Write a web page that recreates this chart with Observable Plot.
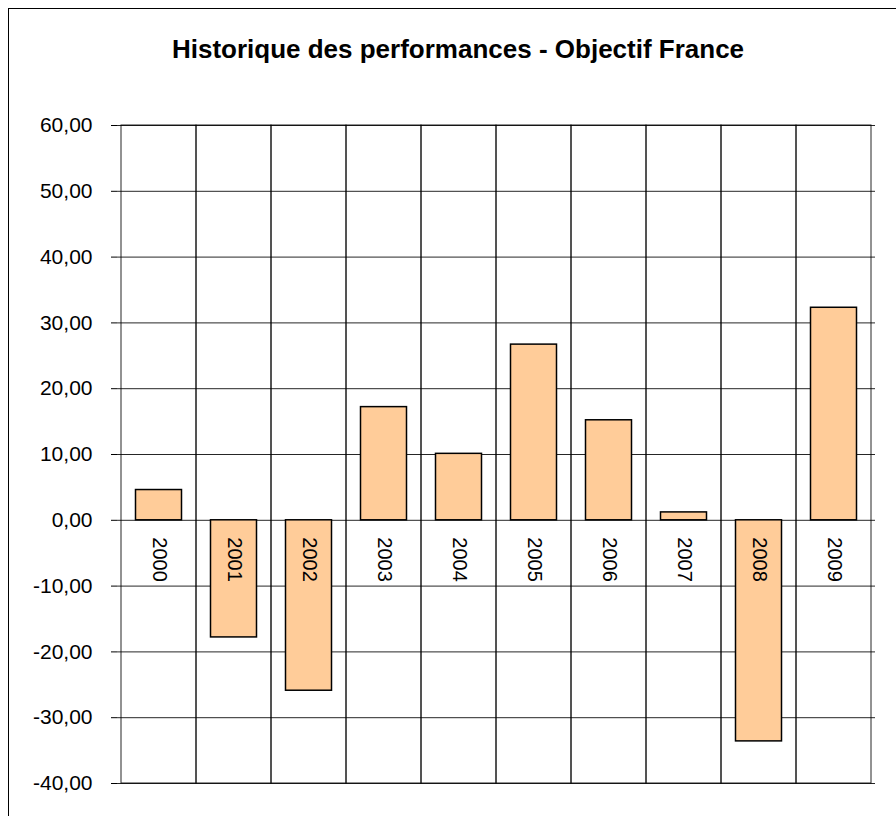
<!DOCTYPE html>
<html>
<head>
<meta charset="utf-8">
<script src="https://cdn.jsdelivr.net/npm/d3@7"></script>
<script src="https://cdn.jsdelivr.net/npm/@observablehq/plot@0.6"></script>
<style>
  html, body { margin: 0; padding: 0; background: #fff; overflow: hidden; width: 896px; height: 816px; }
  #frame { position: absolute; left: 8px; top: 8px; width: 1000px; height: 1000px; border: 1px solid #000; box-sizing: border-box; }
  #title { position: absolute; left: 20px; width: 876px; top: 34px; height: 30px; line-height: 30px; text-align: center;
           font-family: "Liberation Sans", Arial, sans-serif; font-weight: bold; font-size: 26px; color: #000; }
  #chart { position: absolute; left: 0; top: 100px; }
</style>
</head>
<body>
<div id="frame"></div>
<div id="title">Historique des performances - Objectif France</div>
<div id="chart"></div>
<script>
const years = ["2000", "2001", "2002", "2003", "2004", "2005", "2006", "2007", "2008", "2009"];
const values = [4.6, -17.8, -25.9, 17.2, 10.1, 26.7, 15.2, 1.2, -33.6, 32.3];
const yTicks = [-40, -30, -20, -10, 0, 10, 20, 30, 40, 50, 60];

const data = years.map((y, i) => ({year: y, value: values[i]}));
const fmt = d => d.toFixed(2).replace(".", ",");

const chart = Plot.plot({
  width: 896,
  height: 716,
  marginTop: 25,
  marginBottom: 33,
  marginLeft: 117,
  marginRight: 21,
  style: {fontFamily: "'Liberation Sans', Arial, sans-serif", fontSize: "21px", color: "#000", background: "transparent"},
  x: {domain: years, padding: 0, axis: null},
  y: {domain: [-40, 60], ticks: yTicks, tickFormat: fmt, tickSize: 6, tickPadding: 19, label: null},
  marks: [
    Plot.ruleY(yTicks, {stroke: "#000", strokeWidth: 1, strokeOpacity: 0.85}),
    Plot.barY(years, {x: d => d, y1: -40, y2: 60, fill: "none", stroke: "#000", strokeWidth: 1, strokeOpacity: 0.85}),
    Plot.barY(data, {x: "year", y: "value", fill: "#FFCC99", stroke: "#000", strokeWidth: 1.5, insetLeft: 14.5, insetRight: 14.5}),
    Plot.text(data, {x: "year", y: 0, text: "year", rotate: 90, textAnchor: "start", lineAnchor: "middle", dy: 17, fontSize: 20, fill: "#000"}),
    Plot.axisY({ticks: yTicks, tickFormat: fmt, tickSize: 6, tickPadding: 19, fontSize: 21, stroke: "#000", label: null})
  ]
});
document.getElementById("chart").appendChild(chart);
</script>
</body>
</html>
